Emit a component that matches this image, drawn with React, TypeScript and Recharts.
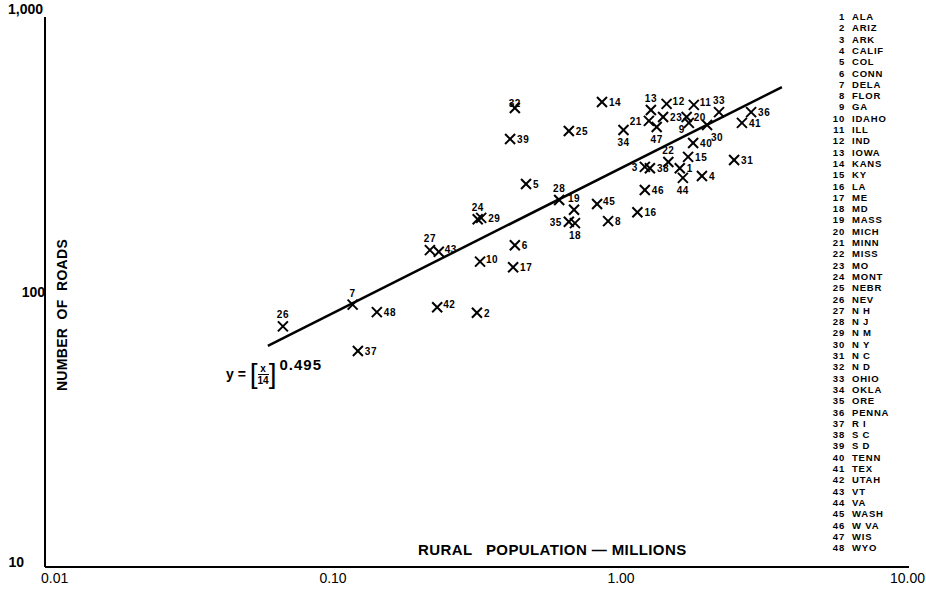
import { ScatterChart, Scatter, XAxis, YAxis, ReferenceLine } from "recharts"

// state names, index + 1 = plot number
const states = [
  "ALA", "ARIZ", "ARK", "CALIF", "COL", "CONN", "DELA", "FLOR", "GA", "IDAHO",
  "ILL", "IND", "IOWA", "KANS", "KY", "LA", "ME", "MD", "MASS", "MICH",
  "MINN", "MISS", "MO", "MONT", "NEBR", "NEV", "N H", "N J", "N M", "N Y",
  "N C", "N D", "OHIO", "OKLA", "ORE", "PENNA", "R I", "S C", "S D", "TENN",
  "TEX", "UTAH", "VT", "VA", "WASH", "W VA", "WIS", "WYO",
]

// rural population, millions
const ruralPop = [
  1.6, 0.316, 1.21, 1.91, 0.468, 0.428, 0.117, 0.902, 1.72, 0.324,
  1.79, 1.44, 1.27, 0.859, 1.71, 1.14, 0.422, 0.692, 0.687, 1.69,
  1.25, 1.46, 1.4, 0.318, 0.659, 0.067, 0.217, 0.61, 0.327, 1.99,
  2.47, 0.428, 2.19, 1.02, 0.659, 2.83, 0.122, 1.26, 0.412, 1.78,
  2.63, 0.23, 0.233, 1.64, 0.826, 1.21, 1.33, 0.142,
]

// number of roads
const roads = [
  282, 84, 285, 264, 247, 148, 90, 181, 412, 129,
  479, 483, 459, 491, 310, 195, 123, 178, 199, 433,
  419, 297, 433, 184, 385, 75, 142, 216, 186, 405,
  302, 467, 451, 388, 180, 451, 61, 282, 360, 348,
  412, 88, 140, 260, 209, 235, 398, 84.5,
]

// ends of the fitted line
const fitPop = [0.0594, 3.62]
const fitRoads = [63.7, 556]

const xTicks = [0.01, 0.1, 1, 10]
const xTickLabels = ["0.01", "0.10", "1.00", "10.00"]
const yTicks = [10, 100, 1000]
const yTickLabels = ["10", "100", "1,000"]

const data = states.map((name, i) => ({ id: i + 1, name, x: ruralPop[i], y: roads[i] }))

// where each number sits next to its mark (default: right)
const labelSide: Record<number, string> = {
  3: "l", 7: "t", 9: "bl", 13: "t", 18: "b", 19: "t", 21: "l", 22: "t", 24: "t",
  26: "t", 27: "t", 28: "t", 30: "br", 32: "o", 33: "t", 34: "b", 35: "l",
  44: "b", 47: "b", 10: "rs", 11: "rs", 12: "rs", 42: "rs", 43: "rs", 45: "rs",
}

const font = "'Liberation Sans', Arial, sans-serif"

const XMark = (props: any) => {
  const { cx, cy, payload } = props
  const s = 5
  const side = labelSide[payload.id] || "r"
  let tx = cx + 7
  let ty = cy + 4
  let anchor = "start"
  if (side === "t") { tx = cx; ty = cy - 8; anchor = "middle" }
  if (side === "o") { tx = cx; ty = cy - 1; anchor = "middle" }
  if (side === "b") { tx = cx; ty = cy + 16; anchor = "middle" }
  if (side === "br") { tx = cx + 4; ty = cy + 16 }
  if (side === "bl") { tx = cx - 4; ty = cy + 10; anchor = "end" }
  if (side === "l") { tx = cx - 7; anchor = "end" }
  if (side === "rs") { tx = cx + 6; ty = cy + 1 }
  return (
    <g>
      <line x1={cx - s} y1={cy - s} x2={cx + s} y2={cy + s} stroke="#000" strokeWidth={2} />
      <line x1={cx - s} y1={cy + s} x2={cx + s} y2={cy - s} stroke="#000" strokeWidth={2} />
      <text x={tx} y={ty} textAnchor={anchor} fontSize={10} fontWeight="bold"
        fontFamily={font} fill="#000" letterSpacing={0.5}>
        {payload.id}
      </text>
    </g>
  )
}

const XTick = (props: any) => {
  const { x, payload, index } = props
  let anchor = "middle"
  let tx = x
  if (index === 0) { anchor = "start"; tx = x - 4 }
  if (index === xTicks.length - 1) { anchor = "end"; tx = x + 16 }
  return (
    <text x={tx} y={583} textAnchor={anchor} fontSize={14} fontFamily={font} fill="#000">
      {xTickLabels[xTicks.indexOf(payload.value)]}
    </text>
  )
}

const YTick = (props: any) => {
  const { y, payload } = props
  let tx = 45
  let ty = y + 5
  if (payload.value === 10) { tx = 24; ty = y }
  if (payload.value === 1000) { tx = 43; ty = y - 3 }
  return (
    <text x={tx} y={ty} textAnchor="end" fontSize={14} fontWeight="bold" fontFamily={font} fill="#000">
      {yTickLabels[yTicks.indexOf(payload.value)]}
    </text>
  )
}

export default function App() {
  return (
    <div style={{ position: "absolute", left: 0, top: 0, width: 926, height: 589, background: "#fff", fontFamily: font }}>
      <ScatterChart width={926} height={589} margin={{ top: 17, right: 17, left: 0, bottom: 0 }}>
        <XAxis type="number" dataKey="x" scale="log" domain={[0.01, 10]} ticks={xTicks}
          allowDataOverflow height={22} tickLine={false} tick={<XTick />}
          axisLine={{ stroke: "#000", strokeWidth: 2 }} />
        <YAxis type="number" dataKey="y" scale="log" domain={[10, 1000]} ticks={yTicks}
          allowDataOverflow width={45} tickLine={false} tick={<YTick />}
          axisLine={{ stroke: "#000", strokeWidth: 2 }} />
        <ReferenceLine
          segment={[{ x: fitPop[0], y: fitRoads[0] }, { x: fitPop[1], y: fitRoads[1] }]}
          stroke="#000" strokeWidth={2.5} ifOverflow="visible" />
        <Scatter data={data} shape={<XMark />} isAnimationActive={false} />
      </ScatterChart>

      <div style={{ position: "absolute", left: 418, top: 541, fontSize: 15, fontWeight: "bold", whiteSpace: "pre", letterSpacing: 0.4 }}>
        {"RURAL   POPULATION — MILLIONS"}
      </div>
      <div style={{
        position: "absolute", left: 62, top: 315, fontSize: 14, fontWeight: "bold", whiteSpace: "pre",
        transform: "translate(-50%, -50%) rotate(-90deg)", letterSpacing: 0.3,
      }}>
        {"NUMBER  OF  ROADS"}
      </div>

      <div style={{ position: "absolute", left: 226, top: 360, display: "flex", alignItems: "center", fontWeight: "bold" }}>
        <span style={{ fontSize: 14 }}>y =&nbsp;</span>
        <span style={{ fontSize: 28, fontWeight: "normal", lineHeight: 1 }}>[</span>
        <span style={{ display: "inline-flex", flexDirection: "column", alignItems: "center", fontSize: 10, lineHeight: "11px" }}>
          <span>x</span>
          <span style={{ borderTop: "1.5px solid #000" }}>14</span>
        </span>
        <span style={{ fontSize: 28, fontWeight: "normal", lineHeight: 1 }}>]</span>
        <span style={{ fontSize: 15, alignSelf: "flex-start", marginTop: -4, marginLeft: 3, letterSpacing: 1 }}>0.495</span>
      </div>

      {states.map((name, i) => (
        <div key={name} style={{
          position: "absolute", left: 818, top: 11 + i * 11.3, width: 104, fontSize: 9.5,
          fontWeight: "bold", lineHeight: "11px", display: "flex", letterSpacing: 0.8,
        }}>
          <span style={{ width: 27, textAlign: "right" }}>{i + 1}</span>
          <span style={{ marginLeft: 7 }}>{name}</span>
        </div>
      ))}
    </div>
  )
}
